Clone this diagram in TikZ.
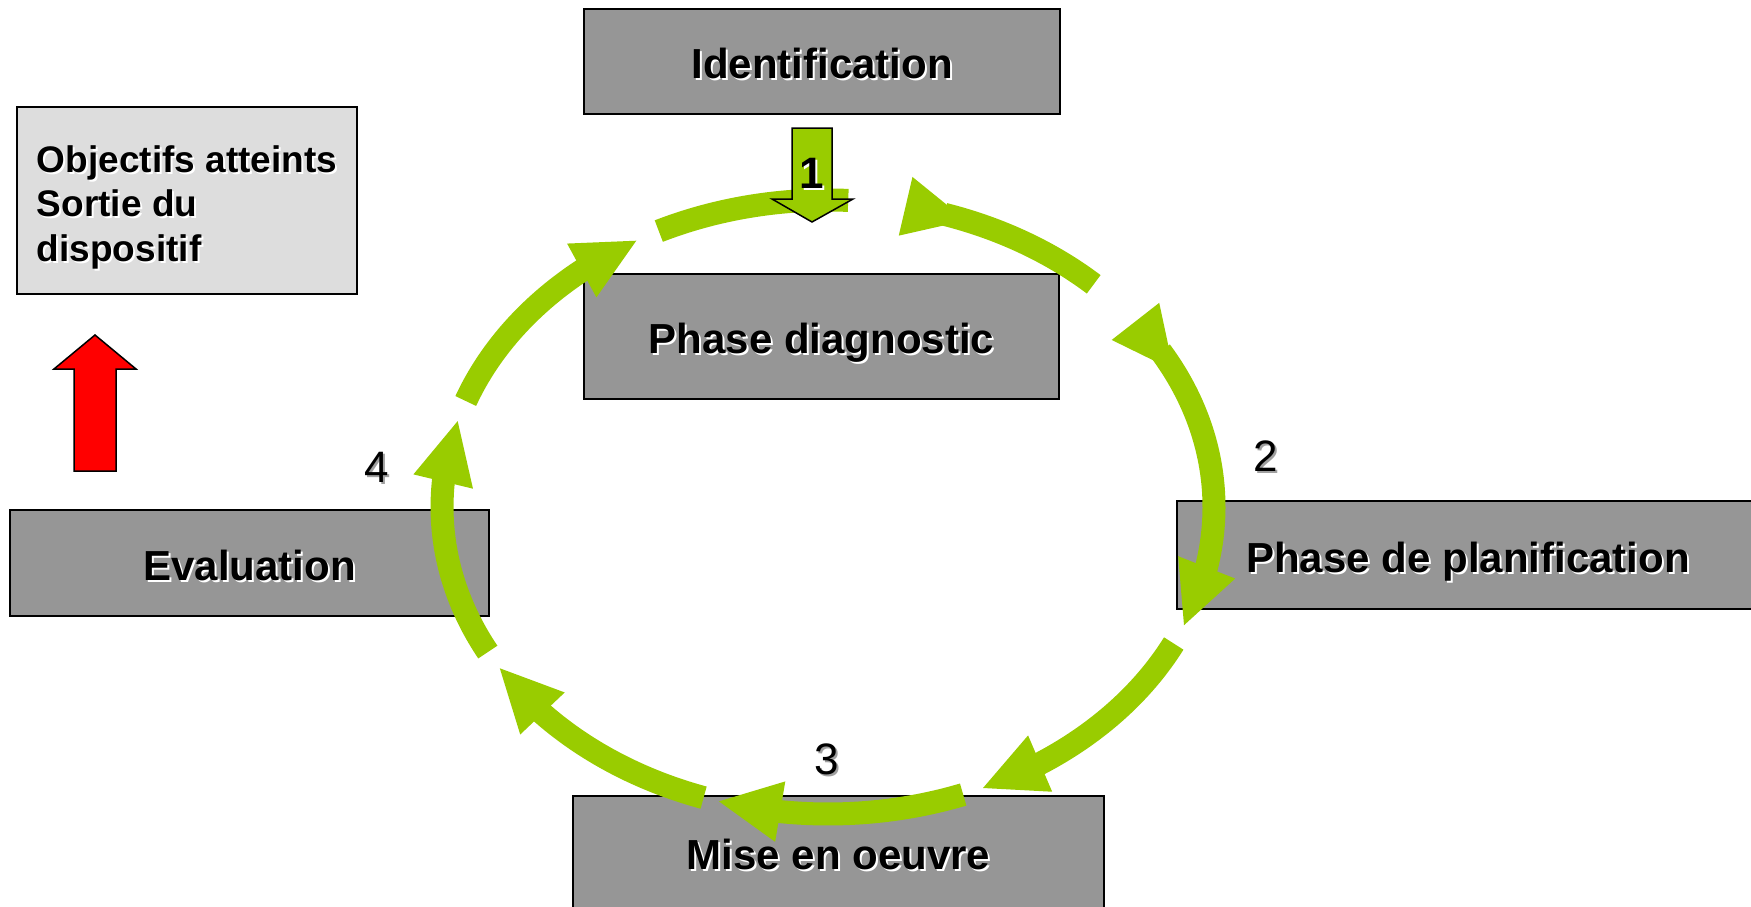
\documentclass[tikz,border=0pt]{standalone}
\usepackage{fontspec}
\setmainfont{Liberation Sans}
\usetikzlibrary{arrows.meta,bending}
\definecolor{grn}{HTML}{99CC00}
\definecolor{boxgray}{HTML}{969696}
\definecolor{lightbox}{HTML}{DDDDDD}
\definecolor{shadowgray}{HTML}{A0A0A0}
\definecolor{arrowred}{HTML}{FF0000}
\newcommand\shd[2]{\rlap{\kern2pt\raisebox{-2pt}{\color{#1}#2}}#2}
\begin{document}
\begin{tikzpicture}[x=1pt,y=-1pt,
  phase/.style={draw=black, line width=1.5pt, fill=boxgray, inner sep=0pt,
    text height=37pt, text depth=3pt,
    font=\fontsize{42}{50}\selectfont\bfseries},
  infobox/.style={draw=black, line width=1.5pt, fill=lightbox, inner sep=0pt},
  infotext/.style={inner sep=0pt, align=left,
    font=\fontsize{37}{44.5}\selectfont\bfseries},
  num/.style={inner sep=0pt, font=\fontsize{44}{50}\selectfont},
  numbold/.style={inner sep=0pt, font=\fontsize{44}{50}\selectfont\bfseries},
  garc/.style={draw=grn, line width=23pt},
  tipend/.style={-{Triangle[width=56pt,length=64pt,flex]}},
  tipboth/.style={{Triangle[width=55pt,length=64pt,reversed,flex]}-{Triangle[width=56pt,length=64pt,flex]}},
  tipstart/.style={{Triangle[width=55pt,length=64pt,reversed,flex]}-},
  blockarrow/.style={draw=black, line width=1.5pt, line join=miter}
]
\useasboundingbox (0,0) rectangle (1751,907);

% boxes
\node[phase, minimum width=476pt, minimum height=105pt] (ident) at (822,61.5) {\shd{white}{Identification}};
\node[phase, minimum width=475pt, minimum height=125pt] (diag) at (821.5,336.5) {\shd{white}{Phase diagnostic}};
\node[phase, minimum width=479pt, minimum height=106pt] (eval) at (249.5,563) {\shd{white}{Evaluation}};
\node[phase, minimum width=582pt, minimum height=108pt] (plan) at (1468,555) {\shd{white}{Phase de planification}};
\node[phase, minimum width=531pt, minimum height=112pt] (mise) at (838.5,852) {\shd{white}{Mise en oeuvre}};
\node[infobox, minimum width=340pt, minimum height=187pt] (obj) at (187,200.5) {};
\node[infotext] (objtext) at (187,208)
  {\shd{white}{Objectifs atteints}\\\shd{white}{Sortie du}\\\shd{white}{dispositif}};

% cycle arcs
\coordinate (c) at (828,507);
\path (c) ++(-116:386 and 307) coordinate (a1);
\path (c) ++(-78.4:386 and 307) coordinate (a3);
\path (c) ++(-37.2:386 and 307) coordinate (a4);
\path (c) ++(26.4:386 and 307) coordinate (a5);
\path (c) ++(69.5:386 and 307) coordinate (a6);
\path (c) ++(108.8:386 and 307) coordinate (a7);
\path (c) ++(151.8:386 and 307) coordinate (a8);
\path (c) ++(200.2:386 and 307) coordinate (a9);

\draw[garc] (a1) arc[start angle=-116, end angle=-87, x radius=386, y radius=307];
\draw[garc, tipstart] (a3) arc[start angle=-78.4, end angle=-46.5, x radius=386, y radius=307];
\draw[garc, tipboth] (a4) arc[start angle=-37.2, end angle=23, x radius=386, y radius=307];
\draw[garc, tipend] (a5) arc[start angle=26.4, end angle=66.6, x radius=386, y radius=307];
\draw[garc, tipend] (a6) arc[start angle=69.5, end angle=106.7, x radius=386, y radius=307];
\draw[garc, tipend] (a7) arc[start angle=108.8, end angle=148.6, x radius=386, y radius=307];
\draw[garc, tipend] (a8) arc[start angle=151.8, end angle=196.6, x radius=386, y radius=307];
\draw[garc, tipend] (a9) arc[start angle=200.2, end angle=240.5, x radius=386, y radius=307];

% arrow 1 (down)
\draw[blockarrow, fill=grn] (792,128) -- (832,128) -- (832,199) -- (853,199) -- (812,222)
  -- (772,199) -- (792,199) -- cycle;
% red arrow (up)
\draw[blockarrow, fill=arrowred] (74,471) -- (74,369) -- (54,369) -- (95,335) -- (136,369)
  -- (116,369) -- (116,471) -- cycle;

% numbers
\node[numbold] (n1) at (812,174) {\shd{white}{1}};
\node[num] (n2) at (1266,457) {\shd{shadowgray}{2}};
\node[num] (n3) at (827,760) {\shd{shadowgray}{3}};
\node[num] (n4) at (377,468) {\shd{shadowgray}{4}};
\end{tikzpicture}
\end{document}
